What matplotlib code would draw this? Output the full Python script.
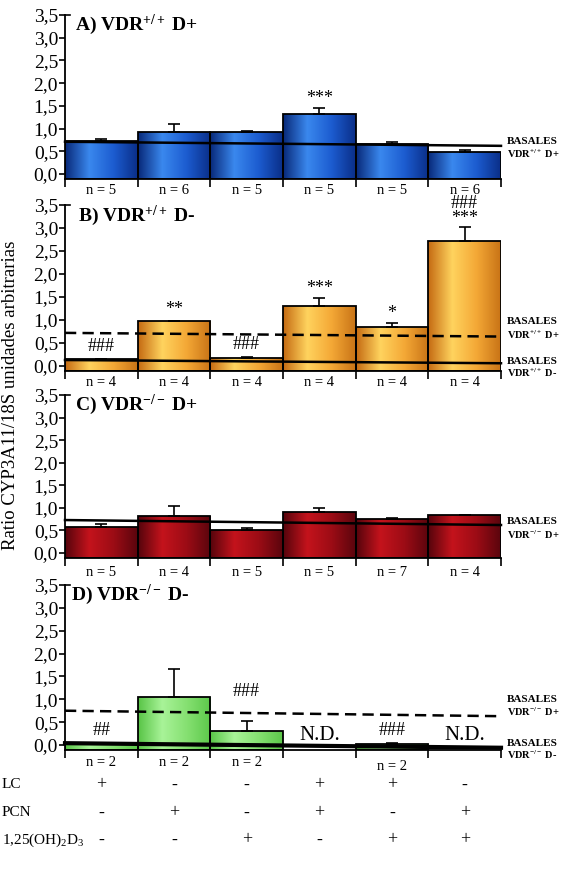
import matplotlib
matplotlib.use("Agg")
import matplotlib.pyplot as plt
import numpy as np
from matplotlib.colors import LinearSegmentedColormap
from matplotlib import transforms

plt.rcParams['font.family'] = ['Liberation Serif', 'DejaVu Serif']
plt.rcParams['mathtext.fontset'] = 'custom'
plt.rcParams['mathtext.rm'] = 'Liberation Serif'
plt.rcParams['mathtext.bf'] = 'Liberation Serif:bold'
plt.rcParams['mathtext.it'] = 'Liberation Serif:italic'

W, H = 568, 869

# --- data ---
treat_rows = ['LC', 'PCN', '1,25(OH)$_2$D$_3$']
treat_lc = ['+', '-', '-', '+', '+', '-']
treat_pcn = ['-', '+', '-', '+', '-', '+']
treat_vitd = ['-', '-', '+', '-', '+', '+']

vals_a = [0.73, 0.93, 0.93, 1.32, 0.65, 0.49]
err_a = [0.05, 0.16, 0.02, 0.13, 0.05, 0.03]
n_a = ['n = 5', 'n = 6', 'n = 5', 'n = 5', 'n = 5', 'n = 6']
sig_a = ['', '', '', '***', '', '']
basal_dplus_a = [0.71, 0.62]

vals_b = [0.15, 0.98, 0.18, 1.30, 0.85, 2.72]
err_b = [0.0, 0.0, 0.02, 0.17, 0.08, 0.30]
n_b = ['n = 4'] * 6
sig_b = ['###', '**', '###', '***', '*', '###\n***']
basal_dplus_b = [0.72, 0.64]
basal_dminus_b = [0.13, 0.06]

vals_c = [0.57, 0.82, 0.50, 0.90, 0.75, 0.84]
err_c = [0.07, 0.23, 0.06, 0.10, 0.02, 0.0]
n_c = ['n = 5', 'n = 4', 'n = 5', 'n = 5', 'n = 7', 'n = 4']
sig_c = [''] * 6
basal_dplus_c = [0.73, 0.62]

vals_d = [0.04, 1.06, 0.30, np.nan, 0.03, np.nan]
err_d = [0.0, 0.61, 0.23, 0.0, 0.02, 0.0]
n_d = ['n = 2', 'n = 2', 'n = 2', '', 'n = 2', '']
sig_d = ['##', '', '###', 'N.D.', '###', 'N.D.']
basal_dplus_d = [0.75, 0.63]
basal_dminus_d = [0.04, -0.06]

# --- styling ---
cmaps = {
    'blue': LinearSegmentedColormap.from_list('b', ['#082878', '#3a88ee', '#1c5cd0', '#0a2e88'], N=256),
    'orange': LinearSegmentedColormap.from_list('o', ['#c46a12', '#ffd35e', '#f4a836', '#c87316'], N=256),
    'red': LinearSegmentedColormap.from_list('r', ['#55040c', '#c4131c', '#9c0c15', '#5a050d'], N=256),
    'green': LinearSegmentedColormap.from_list('g', ['#58c446', '#a8f398', '#86e072', '#5cc84a'], N=256),
}
BOT = -0.1

fig = plt.figure(figsize=(W / 100, H / 100), dpi=100)


def px(x, y):
    return x / W, 1 - y / H


def make_axes(y0, y35):
    scale = (y0 - y35) / 3.5
    bot = y0 - BOT * scale
    return fig.add_axes([65 / W, 1 - bot / H, 436 / W, (bot - y35) / H])


def draw_panel(ax, vals, errs, cmap, ns, sigs, n_y, sig_off):
    x = np.arange(6) + 0.5
    vals = np.array(vals, dtype=float)
    heights = vals - BOT
    bars = ax.bar(x, heights, width=1.0, bottom=BOT, color='none', edgecolor='none', zorder=2)
    grad = np.linspace(0, 1, 256).reshape(1, -1)
    for b, v in zip(bars, vals):
        if np.isnan(v):
            continue
        im = ax.imshow(grad, extent=[b.get_x(), b.get_x() + 1, BOT, v], aspect='auto',
                       cmap=cmap, zorder=2, interpolation='bilinear')
        im.set_clip_path(b)
    ax.bar(x, heights, width=1.0, bottom=BOT, facecolor='none', edgecolor='black',
           linewidth=1.3, zorder=3)
    ax.errorbar(x, vals, yerr=[np.zeros(6), errs], fmt='none', ecolor='black',
                elinewidth=1.2, capsize=4, capthick=1.2, zorder=3)
    tops = np.nan_to_num(vals) + np.array(errs)
    for xi, t, s, off in zip(x, tops, sigs, sig_off):
        if s:
            fs = 15 if s == 'N.D.' else 13
            ax.annotate(s, (xi, t), xytext=(0, off), textcoords='offset points',
                        ha='center', va='bottom', fontsize=fs, linespacing=0.85, zorder=5)
    tr = transforms.blended_transform_factory(ax.transData, fig.transFigure)
    for xi, n, ny in zip(x, ns, n_y):
        if n:
            ax.text(xi, 1 - ny / H, n, transform=tr, ha='center', va='center', fontsize=10.5)

    ax.set_xlim(0, 6)
    ax.set_ylim(BOT, 3.5)
    for s in ['top', 'right']:
        ax.spines[s].set_visible(False)
    ax.spines['left'].set_bounds(BOT, 3.5)
    ax.spines['left'].set_linewidth(1.3)
    ax.spines['bottom'].set_linewidth(1.3)
    ax.set_yticks(np.arange(0, 3.51, 0.5))
    ax.set_yticklabels([f"{t:.1f}".replace('.', ',') for t in np.arange(0, 3.51, 0.5)])
    ax.set_xticks(np.arange(7))
    ax.set_xticklabels([])
    ax.tick_params(axis='y', direction='out', length=4, width=1.2, labelsize=14, pad=1)
    ax.tick_params(axis='x', direction='out', length=6, width=1.2)
    ax.plot([0, 0.07], [3.5, 3.5], color='black', lw=1.2, clip_on=False)
    ax.patch.set_alpha(0)


def basal(ax, ends, dashed=False, lw=1.6):
    if dashed:
        ax.plot([0, 6], ends, color='black', lw=1.8, dashes=(4.5, 2.5), zorder=4, clip_on=False)
    else:
        ax.plot([0, 6], ends, color='black', lw=lw, zorder=4, clip_on=False)


def side_label(y1, y2, geno):
    fig.text(*px(507, y1), 'BASALES', fontsize=8, fontweight='bold', va='center', ha='left')
    fig.text(*px(507, y2), geno, fontsize=7.5, fontweight='bold', va='center', ha='left')


def title(x, y, s):
    fig.text(*px(x, y), s, fontsize=14, fontweight='bold', va='center', ha='left')


# Panel A
ax_a = make_axes(174, 15)
draw_panel(ax_a, vals_a, err_a, cmaps['blue'], n_a, sig_a, [190] * 6, [1] * 6)
basal(ax_a, basal_dplus_a, lw=1.8)
title(75, 25, r'A) VDR$^{\mathbf{+/+}}$ D+')
side_label(142, 154, r'VDR$^{\mathbf{+/+}}$ D+')

# Panel B
ax_b = make_axes(366, 205)
draw_panel(ax_b, vals_b, err_b, cmaps['orange'], n_b, sig_b, [382] * 6, [3, 2, 3, 1, 1, 0])
basal(ax_b, basal_dplus_b, dashed=True)
basal(ax_b, basal_dminus_b, lw=1.8)
title(78, 216, r'B) VDR$^{\mathbf{+/+}}$ D-')
side_label(322, 335, r'VDR$^{\mathbf{+/+}}$ D+')
side_label(361, 373, r'VDR$^{\mathbf{+/+}}$ D-')

# Panel C
ax_c = make_axes(553, 395)
draw_panel(ax_c, vals_c, err_c, cmaps['red'], n_c, sig_c, [573] * 6, [1] * 6)
basal(ax_c, basal_dplus_c, lw=1.8)
title(75, 405, r'C) VDR$^{\mathbf{-/-}}$ D+')
side_label(522, 535, r'VDR$^{\mathbf{-/-}}$ D+')

# Panel D
ax_d = make_axes(745, 585)
draw_panel(ax_d, vals_d, err_d, cmaps['green'], n_d, sig_d, [763, 763, 763, 763, 767, 763],
           [3, 0, 15, 0, 3, 0])
basal(ax_d, basal_dplus_d, dashed=True)
basal(ax_d, basal_dminus_d, lw=3)
title(71, 595, r'D) VDR$^{\mathbf{-/-}}$ D-')
side_label(700, 712, r'VDR$^{\mathbf{-/-}}$ D+')
side_label(743, 755, r'VDR$^{\mathbf{-/-}}$ D-')

# treatment table under panel D
tr_d = transforms.blended_transform_factory(ax_d.transData, fig.transFigure)
row_y = [785, 813, 840]
for name, signs, ry in zip(treat_rows, [treat_lc, treat_pcn, treat_vitd], row_y):
    fig.text(*px(2, ry), name, ha='left', va='center', fontsize=11)
    for i, s in enumerate(signs):
        ax_d.text(i + 0.5, 1 - ry / H, s, transform=tr_d, ha='center', va='center', fontsize=13)

# y label at the far left edge
fig.text(*px(2, 395), 'Ratio CYP3A11/18S unidades arbitrarias', rotation=90,
         ha='left', va='center', fontsize=13.5)

fig.savefig('out.png', dpi=100)
